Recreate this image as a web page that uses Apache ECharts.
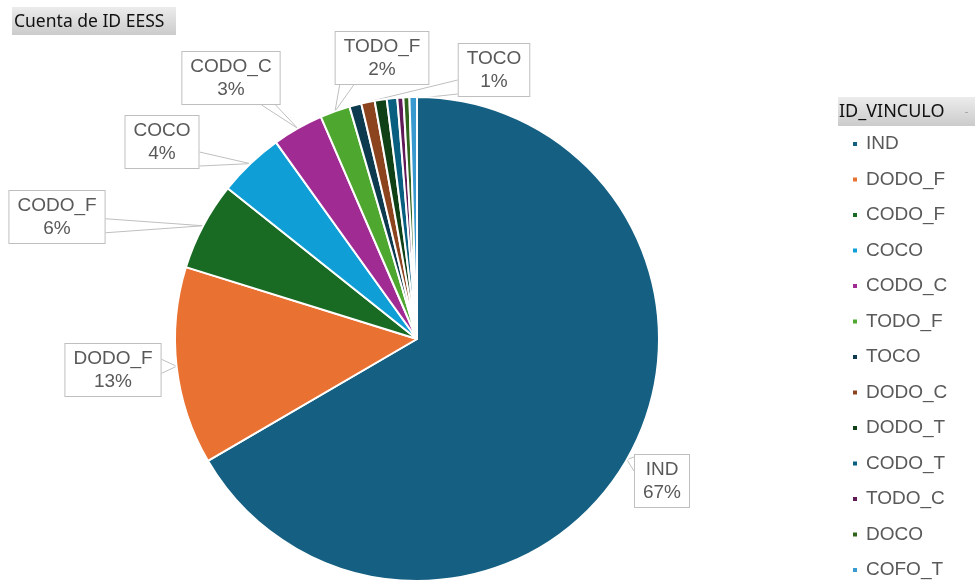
<!DOCTYPE html>
<html><head><meta charset="utf-8">
<script src="https://cdn.jsdelivr.net/npm/echarts@6/dist/echarts.min.js"></script>
<style>html,body{margin:0;padding:0;background:#fff}#c{width:975px;height:582px}</style>
</head><body><div id="c"></div>
<script>
// ---- data ----
const categories = ['IND','DODO_F','CODO_F','COCO','CODO_C','TODO_F','TOCO','DODO_C','DODO_T','CODO_T','TODO_C','DOCO','COFO_T'];
const counts = [666,132,59,44,34,20,8,9,8,7,4,4,5];
const sliceColors = ['#156082','#E97132','#196B24','#0F9ED5','#A02B93','#4EA72E','#0D3A4E','#8C441E','#0F4016','#095F80','#601A58','#2F641C','#3A9AD0'];
const labeledCategories = ['IND','DODO_F','CODO_F','COCO','CODO_C','TODO_F','TOCO'];
const chartTitle = 'Cuenta de ID EESS';
const legendTitle = 'ID_VINCULO';

// ---- layout of callouts (centres of label boxes) ----
const calloutCenters = {
  IND: [662, 481], DODO_F: [113, 370], CODO_F: [57, 217], COCO: [162, 142],
  CODO_C: [231, 78], TODO_F: [382, 58], TOCO: [494, 70]
};

const FONT = '"Liberation Sans", Arial, sans-serif';
const total = counts.reduce((a, b) => a + b, 0);
const pieData = categories.map((name, i) => {
  const shown = labeledCategories.indexOf(name) >= 0;
  return { name: name, value: counts[i], label: { show: shown }, labelLine: { show: shown } };
});

function clamp(v, a, b) { return Math.max(a, Math.min(b, v)); }

const chart = echarts.init(document.getElementById('c'), null, { renderer: 'canvas' });
chart.setOption({
  animation: false,
  color: sliceColors,
  graphic: [
    { type: 'group', left: 12, top: 7, children: [
      { type: 'rect', shape: { x: 0, y: 0, width: 164, height: 28 },
        style: { fill: new echarts.graphic.LinearGradient(0, 0, 0, 1, [{ offset: 0, color: '#ececec' }, { offset: 1, color: '#cbcbcb' }]) } },
      { type: 'text', x: 2, y: 15, style: { text: chartTitle, fontFamily: 'Noto Sans', fontSize: 17.5, fill: '#111', verticalAlign: 'middle' } }
    ]},
    { type: 'group', left: 838, top: 97, children: [
      { type: 'rect', shape: { x: 0, y: 0, width: 137, height: 29 },
        style: { fill: new echarts.graphic.LinearGradient(0, 0, 0, 1, [{ offset: 0, color: '#ececec' }, { offset: 1, color: '#cbcbcb' }]) } },
      { type: 'text', x: 1, y: 15, style: { text: legendTitle, fontFamily: 'Noto Sans', fontSize: 18, fill: '#111', verticalAlign: 'middle' } },
      { type: 'rect', shape: { x: 127, y: 15, width: 3, height: 1 }, style: { fill: '#aaa' } }
    ]}
  ],
  legend: {
    orient: 'vertical', left: 846, top: 129, height: 470, icon: 'rect',
    itemWidth: 6, itemHeight: 6, itemGap: 15.5,
    textStyle: { fontFamily: FONT, fontSize: 19, color: '#595959', lineHeight: 20, padding: [0, 0, 0, 3] },
    data: categories
  },
  series: [{
    type: 'pie',
    center: [417, 339],
    radius: 242,
    startAngle: 90,
    clockwise: true,
    avoidLabelOverlap: false,
    emphasis: { disabled: true },
    itemStyle: { borderColor: '#ffffff', borderWidth: 2 },
    label: {
      position: 'outside',
      formatter: p => p.name + '\n' + Math.round(p.value / total * 100) + '%',
      color: '#595959', fontFamily: FONT, fontSize: 19, lineHeight: 23,
      align: 'center',
      backgroundColor: '#ffffff', borderColor: '#bfbfbf', borderWidth: 1, padding: [3, 8]
    },
    labelLine: { length: 10, length2: 10, lineStyle: { color: '#bfbfbf', width: 1 } },
    labelLayout: function (params) {
      const name = categories[params.dataIndex];
      const c = calloutCenters[name];
      if (!c) return {};
      const w = params.labelRect.width, h = params.labelRect.height;
      const x0 = c[0] - w / 2, x1 = c[0] + w / 2, y0 = c[1] - h / 2, y1 = c[1] + h / 2;
      const res = { x: c[0], y: c[1], align: 'center', verticalAlign: 'middle' };
      const pts = params.labelLinePoints;
      if (pts && pts.length) {
        const ax = pts[0][0], ay = pts[0][1];
        const dx = ax < x0 ? x0 - ax : (ax > x1 ? ax - x1 : 0);
        const dy = ay < y0 ? y0 - ay : (ay > y1 ? ay - y1 : 0);
        let a, b;
        if (dx >= dy) {
          const ex = ax < x0 ? x0 : x1;
          const m = clamp(ay, y0 + 10, y1 - 10);
          a = [ex, m - 7]; b = [ex, m + 7];
        } else {
          const ey = ay < y0 ? y0 : y1;
          const m = clamp(ax, x0 + 12, x1 - 12);
          a = [m - 7, ey]; b = [m + 7, ey];
        }
        res.labelLinePoints = [a, [ax, ay], b];
      }
      return res;
    },
    data: pieData
  }]
});
</script>
</body></html>
